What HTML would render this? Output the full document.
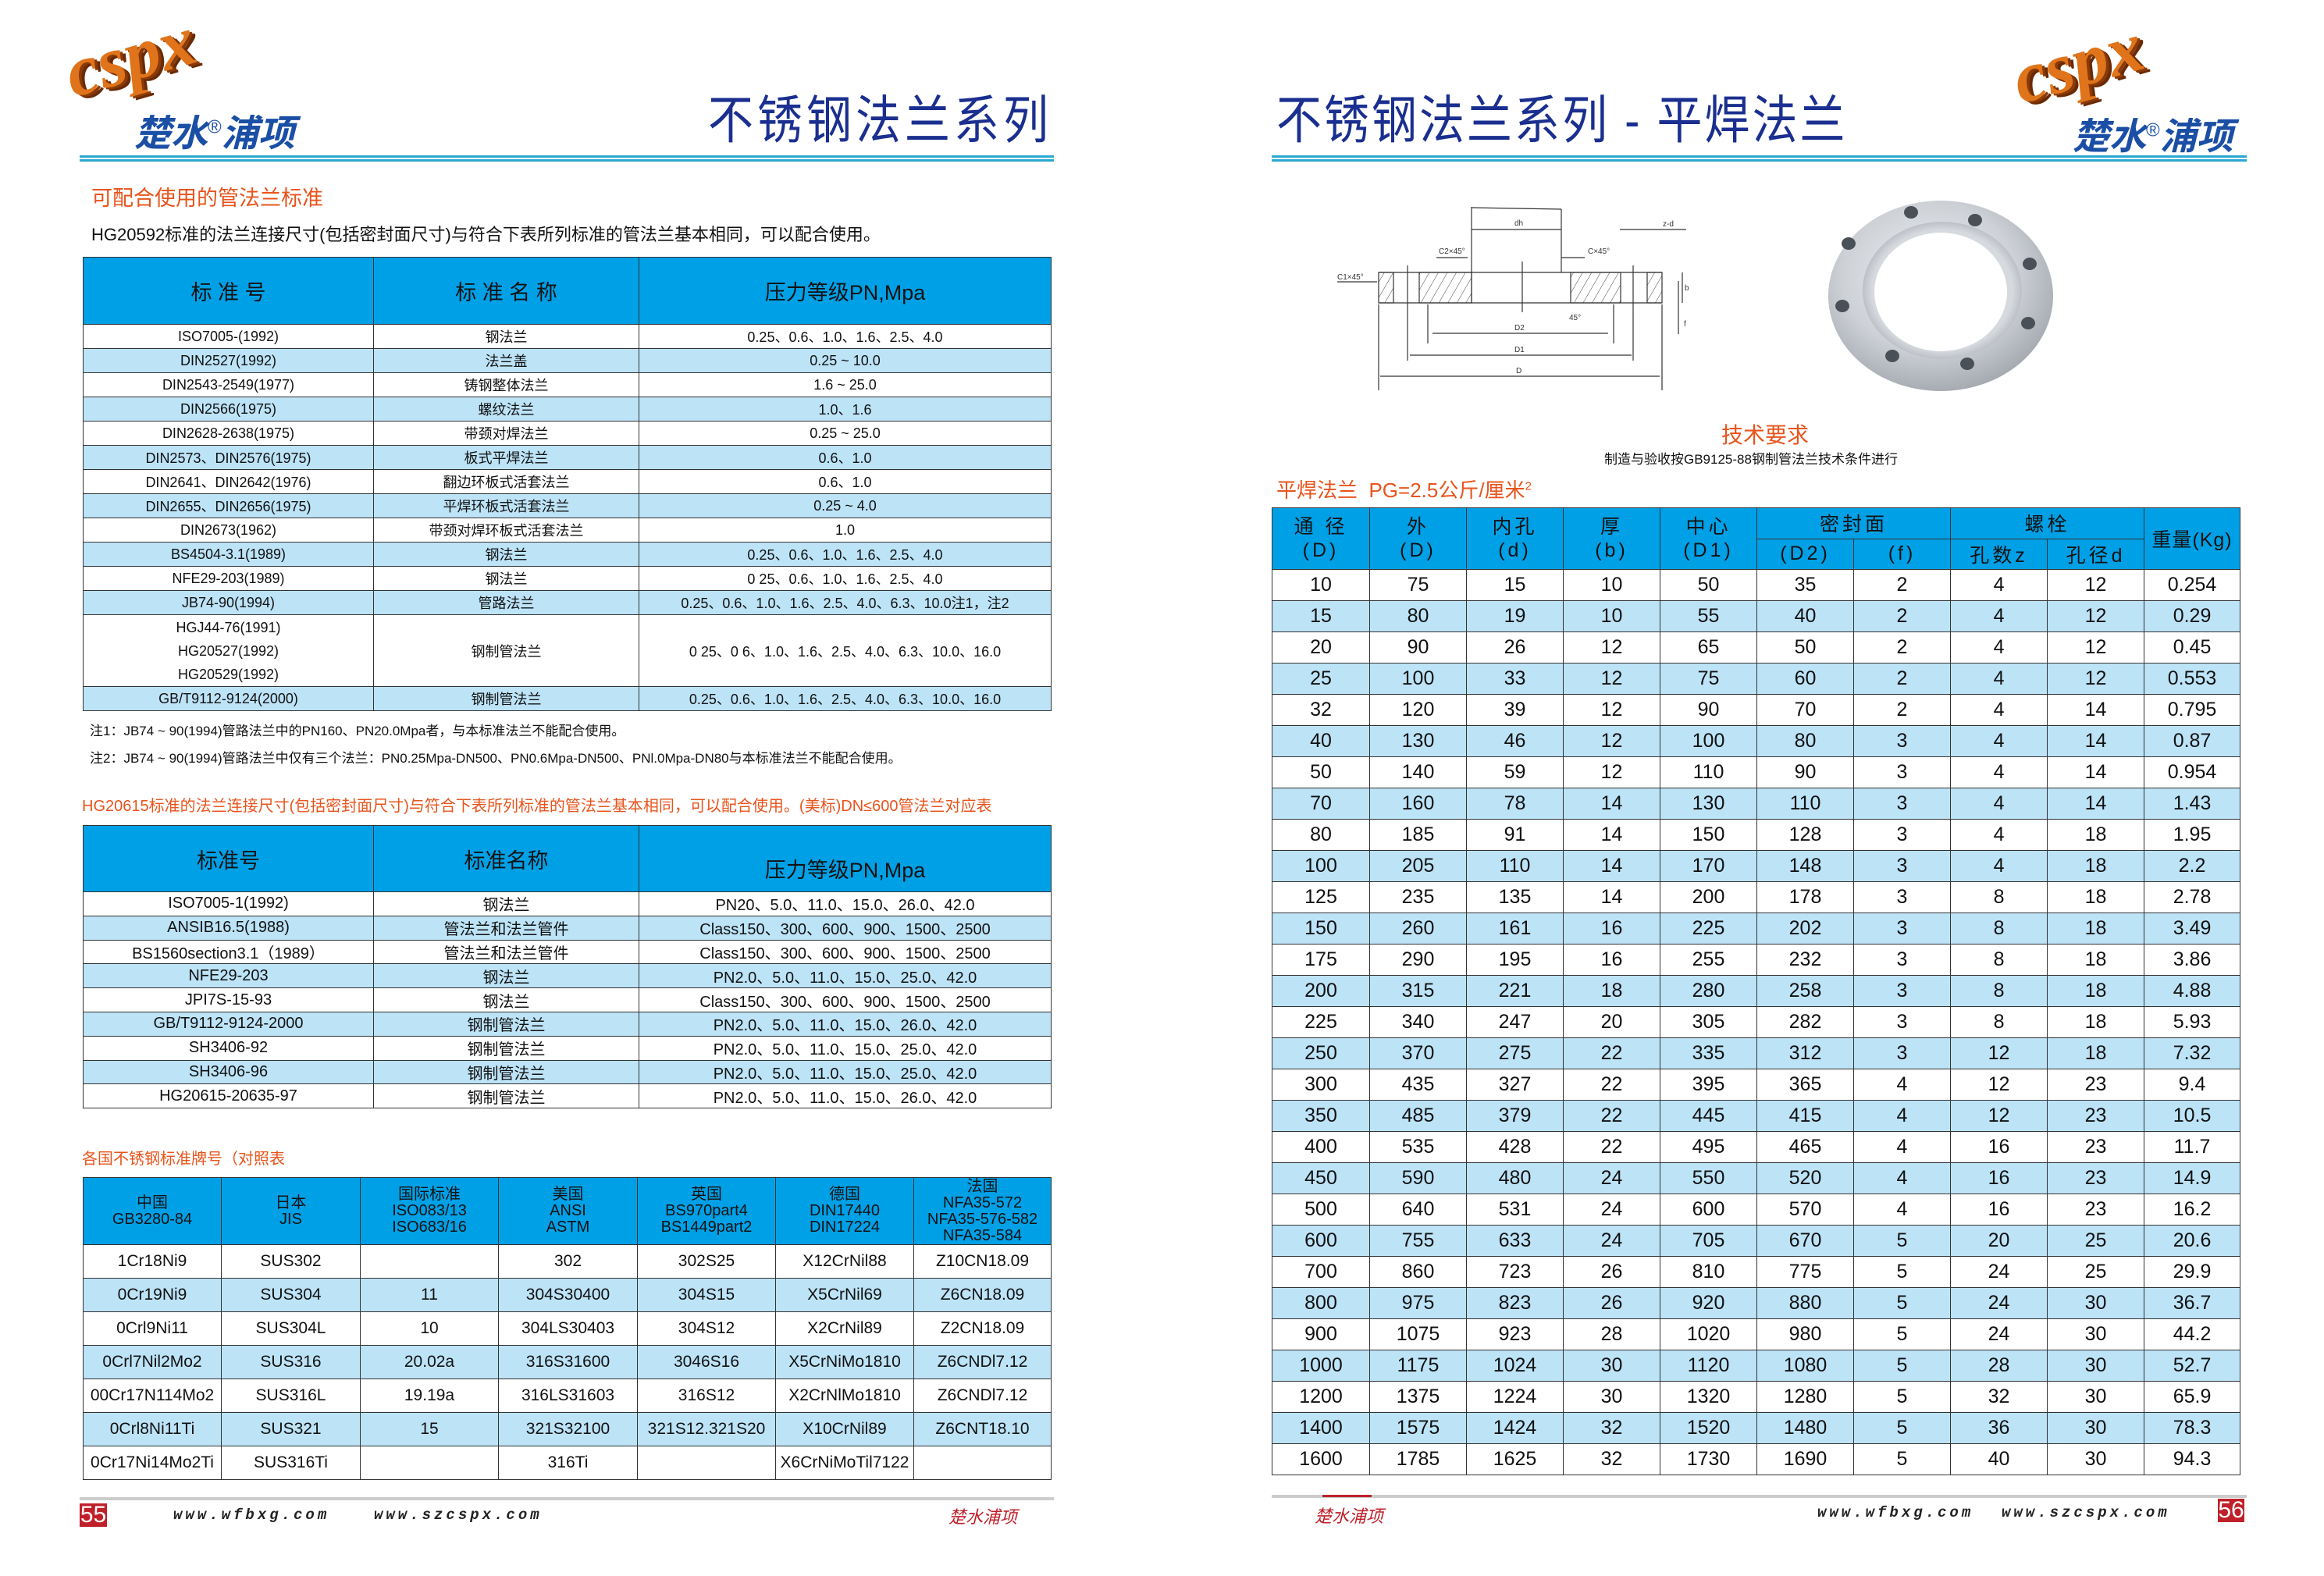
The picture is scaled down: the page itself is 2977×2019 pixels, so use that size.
<!DOCTYPE html>
<html><head><meta charset="utf-8">
<style>
*{margin:0;padding:0;box-sizing:border-box}
body{width:2977px;height:2019px;background:#fff;position:relative;overflow:hidden;font-family:"Liberation Sans","Noto Sans CJK SC",sans-serif;color:#111}
.a{position:absolute;white-space:nowrap}
table{position:absolute;border-collapse:collapse;table-layout:fixed}
td{border:1.5px solid #333;text-align:center;vertical-align:middle;padding:0;overflow:hidden;white-space:nowrap}
tr.h td{background:#00a0e6;color:#111}
tr.l td{background:#bde3f7}
.t1 td{font-size:18px;height:31px}
.t1 tr.h td{font-size:27px;height:86px}
.t2 td{font-size:20px;height:30.8px}
.t2 tr.h td{font-size:27px;height:85px}
.t3 td{font-size:21px;height:43px}
.t3 tr.h td{font-size:20px;height:86px;line-height:21px}
.t4 td{font-size:25px;height:40px}
.t4 tr.h td{font-size:25px;height:39.5px;letter-spacing:4px}
.title{color:#1a2f8f;font-size:58px;font-family:"Liberation Sans","Noto Sans CJK SC",sans-serif;transform:scaleY(1.15);transform-origin:left top}
.or{color:#e8541c}
.line1{position:absolute;height:3px;background:#2aa8d0}
.logo-c{position:absolute;font-family:"Liberation Serif",serif;font-weight:bold;font-style:italic;font-size:92px;color:#e0741a;text-shadow:3px 3px 0 #8a3a08,6px 6px 0 #6a2a05;transform:rotate(-16deg);transform-origin:left bottom}
.logo-t{position:absolute;font-family:"Liberation Sans","Noto Sans CJK SC",sans-serif;font-style:italic;font-weight:bold;font-size:47px;color:#1b4fa6}
.url{position:absolute;font-family:"Liberation Mono",monospace;font-weight:bold;font-style:italic;font-size:19px;letter-spacing:4px;color:#222}
.pn{position:absolute;background:#c0202a;color:#fff;font-size:30px;text-align:center;line-height:30px}
</style></head><body>

<!-- LEFT PAGE HEADER -->
<div class="logo-c" style="left:100px;top:40px">cspx</div>
<div class="logo-t" style="left:172px;top:132px">楚水<sup style="font-size:24px;font-style:normal;font-weight:normal">®</sup>浦项</div>
<div class="a title" style="left:907px;top:100px;letter-spacing:5px">不锈钢法兰系列</div>
<div class="line1" style="left:102px;top:199px;width:1248px"></div>
<div class="line1" style="left:102px;top:204px;width:1248px"></div>

<div class="a or" style="left:117px;top:232px;font-size:27px">可配合使用的管法兰标准</div>
<div class="a" style="left:117px;top:283px;font-size:22px">HG20592标准的法兰连接尺寸(包括密封面尺寸)与符合下表所列标准的管法兰基本相同，可以配合使用。</div>

<table class="t1" style="left:106px;top:329px;width:1240px">
<colgroup><col style="width:372px"><col style="width:340px"><col style="width:528px"></colgroup>
<tr class="h"><td>标 准 号</td><td>标 准 名 称</td><td>压力等级PN,Mpa</td></tr>
<tr><td>ISO7005-(1992)</td><td>钢法兰</td><td>0.25、0.6、1.0、1.6、2.5、4.0</td></tr>
<tr class="l"><td>DIN2527(1992)</td><td>法兰盖</td><td>0.25 ~ 10.0</td></tr>
<tr><td>DIN2543-2549(1977)</td><td>铸钢整体法兰</td><td>1.6 ~ 25.0</td></tr>
<tr class="l"><td>DIN2566(1975)</td><td>螺纹法兰</td><td>1.0、1.6</td></tr>
<tr><td>DIN2628-2638(1975)</td><td>带颈对焊法兰</td><td>0.25 ~ 25.0</td></tr>
<tr class="l"><td>DIN2573、DIN2576(1975)</td><td>板式平焊法兰</td><td>0.6、1.0</td></tr>
<tr><td>DIN2641、DIN2642(1976)</td><td>翻边环板式活套法兰</td><td>0.6、1.0</td></tr>
<tr class="l"><td>DIN2655、DIN2656(1975)</td><td>平焊环板式活套法兰</td><td>0.25 ~ 4.0</td></tr>
<tr><td>DIN2673(1962)</td><td>带颈对焊环板式活套法兰</td><td>1.0</td></tr>
<tr class="l"><td>BS4504-3.1(1989)</td><td>钢法兰</td><td>0.25、0.6、1.0、1.6、2.5、4.0</td></tr>
<tr><td>NFE29-203(1989)</td><td>钢法兰</td><td>0 25、0.6、1.0、1.6、2.5、4.0</td></tr>
<tr class="l"><td>JB74-90(1994)</td><td>管路法兰</td><td>0.25、0.6、1.0、1.6、2.5、4.0、6.3、10.0注1，注2</td></tr>
<tr><td style="height:92px;line-height:30px">HGJ44-76(1991)<br>HG20527(1992)<br>HG20529(1992)</td><td>钢制管法兰</td><td>0 25、0 6、1.0、1.6、2.5、4.0、6.3、10.0、16.0</td></tr>
<tr class="l"><td>GB/T9112-9124(2000)</td><td>钢制管法兰</td><td>0.25、0.6、1.0、1.6、2.5、4.0、6.3、10.0、16.0</td></tr>
</table>
<div class="a" style="left:115px;top:922px;font-size:17px">注1：JB74 ~ 90(1994)管路法兰中的PN160、PN20.0Mpa者，与本标准法兰不能配合使用。</div>
<div class="a" style="left:115px;top:957px;font-size:17px">注2：JB74 ~ 90(1994)管路法兰中仅有三个法兰：PN0.25Mpa-DN500、PN0.6Mpa-DN500、PNl.0Mpa-DN80与本标准法兰不能配合使用。</div>

<div class="a or" style="left:105px;top:1016px;font-size:20px">HG20615标准的法兰连接尺寸(包括密封面尺寸)与符合下表所列标准的管法兰基本相同，可以配合使用。(美标)DN≤600管法兰对应表</div>

<table class="t2" style="left:106px;top:1057px;width:1240px">
<colgroup><col style="width:372px"><col style="width:340px"><col style="width:528px"></colgroup>
<tr class="h"><td>标准号</td><td>标准名称</td><td style="padding-top:24px">压力等级PN,Mpa</td></tr>
<tr><td>ISO7005-1(1992)</td><td>钢法兰</td><td>PN20、5.0、11.0、15.0、26.0、42.0</td></tr>
<tr class="l"><td>ANSIB16.5(1988)</td><td>管法兰和法兰管件</td><td>Class150、300、600、900、1500、2500</td></tr>
<tr><td>BS1560section3.1（1989）</td><td>管法兰和法兰管件</td><td>Class150、300、600、900、1500、2500</td></tr>
<tr class="l"><td>NFE29-203</td><td>钢法兰</td><td>PN2.0、5.0、11.0、15.0、25.0、42.0</td></tr>
<tr><td>JPI7S-15-93</td><td>钢法兰</td><td>Class150、300、600、900、1500、2500</td></tr>
<tr class="l"><td>GB/T9112-9124-2000</td><td>钢制管法兰</td><td>PN2.0、5.0、11.0、15.0、26.0、42.0</td></tr>
<tr><td>SH3406-92</td><td>钢制管法兰</td><td>PN2.0、5.0、11.0、15.0、25.0、42.0</td></tr>
<tr class="l"><td>SH3406-96</td><td>钢制管法兰</td><td>PN2.0、5.0、11.0、15.0、25.0、42.0</td></tr>
<tr><td>HG20615-20635-97</td><td>钢制管法兰</td><td>PN2.0、5.0、11.0、15.0、26.0、42.0</td></tr>
</table>

<div class="a or" style="left:105px;top:1468px;font-size:20px">各国不锈钢标准牌号（对照表</div>

<table class="t3" style="left:106px;top:1508px;width:1240px">
<colgroup><col style="width:177px"><col style="width:178px"><col style="width:177px"><col style="width:178px"><col style="width:177px"><col style="width:177px"><col style="width:176px"></colgroup>
<tr class="h"><td>中国<br>GB3280-84</td><td>日本<br>JIS</td><td>国际标准<br>ISO083/13<br>ISO683/16</td><td>美国<br>ANSI<br>ASTM</td><td>英国<br>BS970part4<br>BS1449part2</td><td>德国<br>DIN17440<br>DIN17224</td><td>法国<br>NFA35-572<br>NFA35-576-582<br>NFA35-584</td></tr>
<tr><td>1Cr18Ni9</td><td>SUS302</td><td></td><td>302</td><td>302S25</td><td>X12CrNil88</td><td>Z10CN18.09</td></tr>
<tr class="l"><td>0Cr19Ni9</td><td>SUS304</td><td>11</td><td>304S30400</td><td>304S15</td><td>X5CrNil69</td><td>Z6CN18.09</td></tr>
<tr><td>0Crl9Ni11</td><td>SUS304L</td><td>10</td><td>304LS30403</td><td>304S12</td><td>X2CrNil89</td><td>Z2CN18.09</td></tr>
<tr class="l"><td>0Crl7Nil2Mo2</td><td>SUS316</td><td>20.02a</td><td>316S31600</td><td>3046S16</td><td>X5CrNiMo1810</td><td>Z6CNDl7.12</td></tr>
<tr><td>00Cr17N114Mo2</td><td>SUS316L</td><td>19.19a</td><td>316LS31603</td><td>316S12</td><td>X2CrNlMo1810</td><td>Z6CNDl7.12</td></tr>
<tr class="l"><td>0Crl8Ni11Ti</td><td>SUS321</td><td>15</td><td>321S32100</td><td>321S12.321S20</td><td>X10CrNil89</td><td>Z6CNT18.10</td></tr>
<tr><td>0Cr17Ni14Mo2Ti</td><td>SUS316Ti</td><td></td><td>316Ti</td><td></td><td>X6CrNiMoTil7122</td><td></td></tr>
</table>

<!-- LEFT FOOTER -->
<div style="position:absolute;left:102px;top:1918px;width:1248px;height:4px;background:#ccc"></div>
<div class="pn" style="left:102px;top:1926px;width:35px;height:30px">55</div>
<div class="url" style="left:222px;top:1930px">www.wfbxg.com</div>
<div class="url" style="left:479px;top:1930px">www.szcspx.com</div>
<div class="a" style="left:1215px;top:1926px;font-size:22px;color:#c0202a;font-style:italic">楚水浦项</div>

<!-- RIGHT PAGE HEADER -->
<div class="a title" style="left:1635px;top:100px;letter-spacing:3px">不锈钢法兰系列 - 平焊法兰</div>
<div class="logo-c" style="left:2595px;top:48px">cspx</div>
<div class="logo-t" style="left:2655px;top:136px">楚水<sup style="font-size:24px;font-style:normal;font-weight:normal">®</sup>浦项</div>
<div class="line1" style="left:1629px;top:199px;width:1249px"></div>
<div class="line1" style="left:1629px;top:204px;width:1249px"></div>

<!-- drawing -->
<svg style="position:absolute;left:0;top:0" width="2977" height="2019" viewBox="0 0 2977 2019">
<defs>
<pattern id="hh" width="10" height="10" patternUnits="userSpaceOnUse" patternTransform="rotate(30)"><line x1="0" y1="0" x2="0" y2="10" stroke="#444" stroke-width="1"/></pattern>
<radialGradient id="fg" cx="45%" cy="40%" r="65%"><stop offset="0" stop-color="#eef0f3"/><stop offset="0.6" stop-color="#cdd1d6"/><stop offset="1" stop-color="#9ea3aa"/></radialGradient>
<radialGradient id="ig" cx="50%" cy="50%" r="55%"><stop offset="0.8" stop-color="#d6d9de"/><stop offset="1" stop-color="#a8adb4"/></radialGradient>
</defs>
<g stroke="#333" stroke-width="1.2" fill="none">
<rect x="1766" y="349" width="19" height="39" fill="url(#hh)"/>
<rect x="1818" y="349" width="67" height="39" fill="url(#hh)"/>
<rect x="2012" y="349" width="64" height="39" fill="url(#hh)"/>
<rect x="2110" y="349" width="19" height="39" fill="url(#hh)"/>
<line x1="1766" y1="349" x2="2129" y2="349"/>
<line x1="1766" y1="388" x2="2129" y2="388"/>
<line x1="1885" y1="265" x2="1885" y2="388"/>
<line x1="2000" y1="268" x2="2000" y2="349"/>
<line x1="1885" y1="266" x2="2000" y2="268"/>
<line x1="1885" y1="294" x2="2000" y2="294"/>
<line x1="1766" y1="390" x2="1766" y2="500"/>
<line x1="2129" y1="390" x2="2129" y2="500"/>
<line x1="1803" y1="340" x2="1803" y2="462"/>
<line x1="2092" y1="340" x2="2092" y2="462"/>
<line x1="1829" y1="390" x2="1829" y2="440"/>
<line x1="2067" y1="390" x2="2067" y2="440"/>
<line x1="1835" y1="427" x2="2060" y2="427"/>
<line x1="1806" y1="455" x2="2090" y2="455"/>
<line x1="1768" y1="482" x2="2126" y2="482"/>
<line x1="2155" y1="349" x2="2155" y2="388"/>
<line x1="2150" y1="360" x2="2150" y2="428"/>
<line x1="1950" y1="335" x2="1950" y2="400"/>
<line x1="2000" y1="330" x2="2030" y2="330"/>
<line x1="1840" y1="330" x2="1880" y2="330"/>
<line x1="2075" y1="294" x2="2160" y2="294"/>
<line x1="1713" y1="361" x2="1764" y2="361"/>
</g>
<g font-family="Liberation Sans" font-size="10" fill="#333">
<text x="1940" y="289">dh</text><text x="2130" y="290">z-d</text>
<text x="1843" y="325">C2×45°</text><text x="2034" y="325">C×45°</text>
<text x="1713" y="358">C1×45°</text><text x="2010" y="410">45°</text>
<text x="1940" y="423">D2</text><text x="1940" y="451">D1</text><text x="1942" y="478">D</text>
<text x="2158" y="372">b</text><text x="2157" y="418">f</text>
</g>
<!-- flange photo -->
<ellipse cx="2486" cy="379" rx="144" ry="122" fill="url(#fg)"/>
<ellipse cx="2488" cy="372" rx="102" ry="88" fill="url(#ig)"/>
<ellipse cx="2486" cy="374" rx="85" ry="76" fill="#fff"/>
<g fill="#4a5058">
<ellipse cx="2448" cy="272" rx="9" ry="8"/><ellipse cx="2530" cy="282" rx="9" ry="8"/>
<ellipse cx="2368" cy="312" rx="9" ry="8"/><ellipse cx="2600" cy="338" rx="9" ry="8"/>
<ellipse cx="2360" cy="392" rx="9" ry="8"/><ellipse cx="2598" cy="414" rx="9" ry="8"/>
<ellipse cx="2424" cy="456" rx="9" ry="8"/><ellipse cx="2520" cy="466" rx="9" ry="8"/>
</g>
</svg>

<div class="a or" style="left:2205px;top:536px;font-size:28px">技术要求</div>
<div class="a" style="left:2055px;top:574px;font-size:17px">制造与验收按GB9125-88钢制管法兰技术条件进行</div>
<div class="a or" style="left:1635px;top:608px;font-size:26px">平焊法兰&nbsp;&nbsp;PG=2.5公斤/厘米<sup style="font-size:15px">2</sup></div>

<table class="t4" style="left:1629px;top:650px;width:1240px">
<colgroup><col style="width:125px"><col style="width:124px"><col style="width:124px"><col style="width:124px"><col style="width:124px"><col style="width:124px"><col style="width:124px"><col style="width:124px"><col style="width:124px"><col style="width:123px"></colgroup>
<tr class="h"><td rowspan="2" style="line-height:30px">通 径<br>(D)</td><td rowspan="2" style="line-height:30px">外<br>(D)</td><td rowspan="2" style="line-height:30px">内孔<br>(d)</td><td rowspan="2" style="line-height:30px">厚<br>(b)</td><td rowspan="2" style="line-height:30px">中心<br>(D1)</td><td colspan="2">密封面</td><td colspan="2">螺栓</td><td rowspan="2" style="letter-spacing:1px">重量(Kg)</td></tr>
<tr class="h"><td>(D2)</td><td>(f)</td><td>孔数z</td><td>孔径d</td></tr>
<tr><td>10</td><td>75</td><td>15</td><td>10</td><td>50</td><td>35</td><td>2</td><td>4</td><td>12</td><td>0.254</td></tr>
<tr class="l"><td>15</td><td>80</td><td>19</td><td>10</td><td>55</td><td>40</td><td>2</td><td>4</td><td>12</td><td>0.29</td></tr>
<tr><td>20</td><td>90</td><td>26</td><td>12</td><td>65</td><td>50</td><td>2</td><td>4</td><td>12</td><td>0.45</td></tr>
<tr class="l"><td>25</td><td>100</td><td>33</td><td>12</td><td>75</td><td>60</td><td>2</td><td>4</td><td>12</td><td>0.553</td></tr>
<tr><td>32</td><td>120</td><td>39</td><td>12</td><td>90</td><td>70</td><td>2</td><td>4</td><td>14</td><td>0.795</td></tr>
<tr class="l"><td>40</td><td>130</td><td>46</td><td>12</td><td>100</td><td>80</td><td>3</td><td>4</td><td>14</td><td>0.87</td></tr>
<tr><td>50</td><td>140</td><td>59</td><td>12</td><td>110</td><td>90</td><td>3</td><td>4</td><td>14</td><td>0.954</td></tr>
<tr class="l"><td>70</td><td>160</td><td>78</td><td>14</td><td>130</td><td>110</td><td>3</td><td>4</td><td>14</td><td>1.43</td></tr>
<tr><td>80</td><td>185</td><td>91</td><td>14</td><td>150</td><td>128</td><td>3</td><td>4</td><td>18</td><td>1.95</td></tr>
<tr class="l"><td>100</td><td>205</td><td>110</td><td>14</td><td>170</td><td>148</td><td>3</td><td>4</td><td>18</td><td>2.2</td></tr>
<tr><td>125</td><td>235</td><td>135</td><td>14</td><td>200</td><td>178</td><td>3</td><td>8</td><td>18</td><td>2.78</td></tr>
<tr class="l"><td>150</td><td>260</td><td>161</td><td>16</td><td>225</td><td>202</td><td>3</td><td>8</td><td>18</td><td>3.49</td></tr>
<tr><td>175</td><td>290</td><td>195</td><td>16</td><td>255</td><td>232</td><td>3</td><td>8</td><td>18</td><td>3.86</td></tr>
<tr class="l"><td>200</td><td>315</td><td>221</td><td>18</td><td>280</td><td>258</td><td>3</td><td>8</td><td>18</td><td>4.88</td></tr>
<tr><td>225</td><td>340</td><td>247</td><td>20</td><td>305</td><td>282</td><td>3</td><td>8</td><td>18</td><td>5.93</td></tr>
<tr class="l"><td>250</td><td>370</td><td>275</td><td>22</td><td>335</td><td>312</td><td>3</td><td>12</td><td>18</td><td>7.32</td></tr>
<tr><td>300</td><td>435</td><td>327</td><td>22</td><td>395</td><td>365</td><td>4</td><td>12</td><td>23</td><td>9.4</td></tr>
<tr class="l"><td>350</td><td>485</td><td>379</td><td>22</td><td>445</td><td>415</td><td>4</td><td>12</td><td>23</td><td>10.5</td></tr>
<tr><td>400</td><td>535</td><td>428</td><td>22</td><td>495</td><td>465</td><td>4</td><td>16</td><td>23</td><td>11.7</td></tr>
<tr class="l"><td>450</td><td>590</td><td>480</td><td>24</td><td>550</td><td>520</td><td>4</td><td>16</td><td>23</td><td>14.9</td></tr>
<tr><td>500</td><td>640</td><td>531</td><td>24</td><td>600</td><td>570</td><td>4</td><td>16</td><td>23</td><td>16.2</td></tr>
<tr class="l"><td>600</td><td>755</td><td>633</td><td>24</td><td>705</td><td>670</td><td>5</td><td>20</td><td>25</td><td>20.6</td></tr>
<tr><td>700</td><td>860</td><td>723</td><td>26</td><td>810</td><td>775</td><td>5</td><td>24</td><td>25</td><td>29.9</td></tr>
<tr class="l"><td>800</td><td>975</td><td>823</td><td>26</td><td>920</td><td>880</td><td>5</td><td>24</td><td>30</td><td>36.7</td></tr>
<tr><td>900</td><td>1075</td><td>923</td><td>28</td><td>1020</td><td>980</td><td>5</td><td>24</td><td>30</td><td>44.2</td></tr>
<tr class="l"><td>1000</td><td>1175</td><td>1024</td><td>30</td><td>1120</td><td>1080</td><td>5</td><td>28</td><td>30</td><td>52.7</td></tr>
<tr><td>1200</td><td>1375</td><td>1224</td><td>30</td><td>1320</td><td>1280</td><td>5</td><td>32</td><td>30</td><td>65.9</td></tr>
<tr class="l"><td>1400</td><td>1575</td><td>1424</td><td>32</td><td>1520</td><td>1480</td><td>5</td><td>36</td><td>30</td><td>78.3</td></tr>
<tr><td>1600</td><td>1785</td><td>1625</td><td>32</td><td>1730</td><td>1690</td><td>5</td><td>40</td><td>30</td><td>94.3</td></tr>
</table>

<!-- RIGHT FOOTER -->
<div style="position:absolute;left:1629px;top:1915px;width:1249px;height:4px;background:#ccc"></div>
<div style="position:absolute;left:1694px;top:1915px;width:63px;height:3px;background:#c0202a"></div>
<div class="a" style="left:1684px;top:1925px;font-size:22px;color:#c0202a;font-style:italic">楚水浦项</div>
<div class="url" style="left:2328px;top:1927px">www.wfbxg.com</div>
<div class="url" style="left:2564px;top:1927px">www.szcspx.com</div>
<div class="pn" style="left:2841px;top:1920px;width:34px;height:30px">56</div>

</body></html>
